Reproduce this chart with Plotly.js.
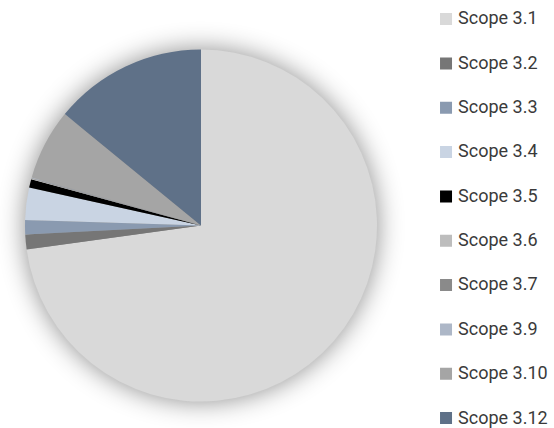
<!DOCTYPE html>
<html>
<head>
<meta charset="utf-8">
<script src="https://cdn.plot.ly/plotly-3.0.1.min.js"></script>
<style>
  html, body { margin: 0; padding: 0; background: #ffffff; }
  #chart { width: 554px; height: 428px; }
  .pielayer { filter: drop-shadow(0 0 13px rgba(0,0,0,0.45)); }
  .legend .legendtext { transform: translateX(-8px); }
</style>
</head>
<body>
<div id="chart"></div>
<script>
// Data (share of total, %)
const categories = ["Scope 3.1", "Scope 3.2", "Scope 3.3", "Scope 3.4", "Scope 3.5",
                    "Scope 3.6", "Scope 3.7", "Scope 3.9", "Scope 3.10", "Scope 3.12"];
const values = [72.9, 1.36, 1.31, 2.97, 0.78, 0.05, 0.05, 0.05, 6.53, 14.1];
const colors = ["#D9D9D9", "#767676", "#8A9AB0", "#C9D4E3", "#000000",
                "#BDBDBD", "#8A8A8A", "#ADB7C7", "#A5A5A5", "#5F7188"];

// legend labels rendered at a smaller size than the legend line height
const legendLabels = categories.map(c =>
  '<span style="font-size:18px;baseline-shift:7px">' + c + '</span>');

const trace = {
  type: "pie",
  labels: legendLabels,
  values: values,
  sort: false,
  direction: "clockwise",
  rotation: 0,
  textinfo: "none",
  hoverinfo: "label+percent",
  marker: { colors: colors, line: { width: 0 } },
  domain: { x: [25/554, 377/554], y: [1 - 401.7/428, 1 - 49.3/428] }
};

const layout = {
  width: 554,
  height: 428,
  margin: { l: 0, r: 0, t: 0, b: 0, autoexpand: false },
  paper_bgcolor: "#ffffff",
  showlegend: true,
  legend: {
    x: 0.769, xanchor: "left",
    y: 1.019, yanchor: "top",
    maxheight: 700,
    font: { family: "Roboto, sans-serif", size: 31.8, color: "#3a3a3a" },
    bgcolor: "rgba(0,0,0,0)"
  }
};

Plotly.newPlot("chart", [trace], layout, { displayModeBar: false, staticPlot: true });
</script>
</body>
</html>
